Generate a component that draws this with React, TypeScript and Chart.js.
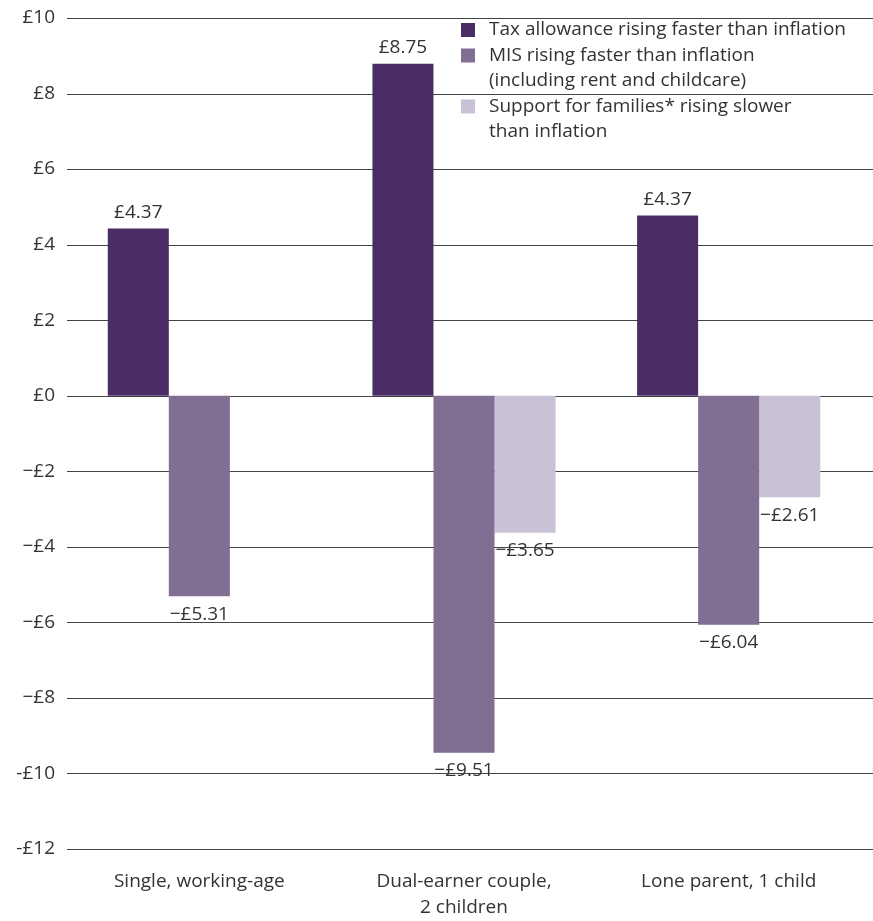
import React, { useEffect, useRef } from "react";
import { Chart, registerables } from "chart.js";

Chart.register(...registerables);

const categories: (string | string[])[] = [
  "Single, working-age",
  ["Dual-earner couple,", "2 children"],
  "Lone parent, 1 child",
];
const taxValues = [4.43, 8.79, 4.77];
const misValues = [-5.31, -9.45, -6.06];
const supportValues: (number | null)[] = [null, -3.63, -2.69];
const taxLabels = ["£4.37", "£8.75", "£4.37"];
const misLabels = ["\u2212£5.31", "\u2212£9.51", "\u2212£6.04"];
const supportLabels = ["", "\u2212£3.65", "\u2212£2.61"];
const seriesNames: string[][] = [
  ["Tax allowance rising faster than inflation"],
  ["MIS rising faster than inflation", "(including rent and childcare)"],
  ["Support for families* rising slower", "than inflation"],
];
const yTickLabels: Record<string, string> = {
  "10": "£10", "8": "£8", "6": "£6", "4": "£4", "2": "£2", "0": "£0",
  "-2": "\u2212£2", "-4": "\u2212£4", "-6": "\u2212£6", "-8": "\u2212£8",
  "-10": "-£10", "-12": "-£12",
};

const COLORS = ["#4b2d66", "#806e93", "#c9c1d5"];
const TEXT = "#333333";
const FONT = "'Open Sans'";
const FS = 19;

export default function App() {
  const ref = useRef<HTMLCanvasElement | null>(null);
  useEffect(() => {
    document.body.style.margin = "0";
    const canvas = ref.current!;
    const valueLabels = [taxLabels, misLabels, supportLabels];

    const gridPlugin = {
      id: "fullGrid",
      beforeDatasetsDraw(chart: any) {
        const { ctx } = chart;
        const y = chart.scales.y;
        ctx.save();
        ctx.strokeStyle = "#444444";
        ctx.lineWidth = 1;
        y.ticks.forEach((t: any) => {
          const py = Math.round(y.getPixelForValue(t.value)) + 0.5;
          ctx.beginPath();
          ctx.moveTo(chart.chartArea.left, py);
          ctx.lineTo(chart.width, py);
          ctx.stroke();
        });
        ctx.restore();
      },
    };

    const labelPlugin = {
      id: "valueLabels",
      afterDatasetsDraw(chart: any) {
        const { ctx } = chart;
        ctx.save();
        ctx.font = `${FS}px ${FONT}`;
        ctx.fillStyle = TEXT;
        ctx.textAlign = "center";
        chart.data.datasets.forEach((ds: any, di: number) => {
          const meta = chart.getDatasetMeta(di);
          meta.data.forEach((bar: any, i: number) => {
            const v = ds.data[i];
            const txt = valueLabels[di][i];
            if (v == null || !txt) return;
            ctx.textBaseline = "middle";
            if (v >= 0) {
              ctx.fillText(txt, bar.x, bar.y - 16);
            } else {
              ctx.fillText(txt, bar.x, bar.y + 18);
            }
          });
        });
        ctx.restore();
      },
    };

    const legendPlugin = {
      id: "customLegend",
      afterDraw(chart: any) {
        const { ctx } = chart;
        ctx.save();
        ctx.font = `${FS}px ${FONT}`;
        ctx.fillStyle = TEXT;
        ctx.textAlign = "left";
        ctx.textBaseline = "middle";
        const x0 = 461;
        let y = 30;
        const lh = 25.5;
        seriesNames.forEach((lines, i) => {
          ctx.fillStyle = COLORS[i];
          ctx.fillRect(x0, y - 7, 14, 14);
          ctx.fillStyle = TEXT;
          lines.forEach((ln) => {
            ctx.fillText(ln, x0 + 28, y);
            y += lh;
          });
        });
        ctx.restore();
      },
    };

    const chart = new Chart(canvas, {
      type: "bar",
      data: {
        labels: categories,
        datasets: [
          { label: seriesNames[0].join(" "), data: taxValues, backgroundColor: COLORS[0] },
          { label: seriesNames[1].join(" "), data: misValues, backgroundColor: COLORS[1] },
          { label: seriesNames[2].join(" "), data: supportValues, backgroundColor: COLORS[2] },
        ],
      },
      options: {
        responsive: false,
        animation: false,
        maintainAspectRatio: false,
        layout: { padding: { top: 18, right: 12, left: 0, bottom: 0 } },
        datasets: { bar: { barPercentage: 1, categoryPercentage: 0.692 } },
        plugins: { legend: { display: false }, tooltip: { enabled: false } },
        scales: {
          x: {
            grid: { display: false, drawTicks: false },
            border: { display: false },
            ticks: {
              color: TEXT,
              font: { family: FONT, size: FS, lineHeight: 1.35 },
              padding: 20,
              maxRotation: 0,
              autoSkip: false,
            },
            afterFit(scale: any) {
              scale.height = 72;
            },
          },
          y: {
            min: -12,
            max: 10,
            grid: { display: false, drawTicks: false },
            border: { display: false },
            ticks: {
              stepSize: 2,
              color: TEXT,
              font: { family: FONT, size: FS },
              padding: 12,
              callback: (v: any) => yTickLabels[String(v)] ?? String(v),
            },
            afterFit(scale: any) {
              scale.width = 67;
              scale.paddingTop = 0;
              scale.paddingBottom = 0;
            },
          },
        },
      },
      plugins: [gridPlugin, labelPlugin, legendPlugin],
    });
    return () => chart.destroy();
  }, []);
  return (
    <div style={{ width: 873, height: 921 }}>
      <canvas ref={ref} width={873} height={921} style={{ display: "block" }} />
    </div>
  );
}
